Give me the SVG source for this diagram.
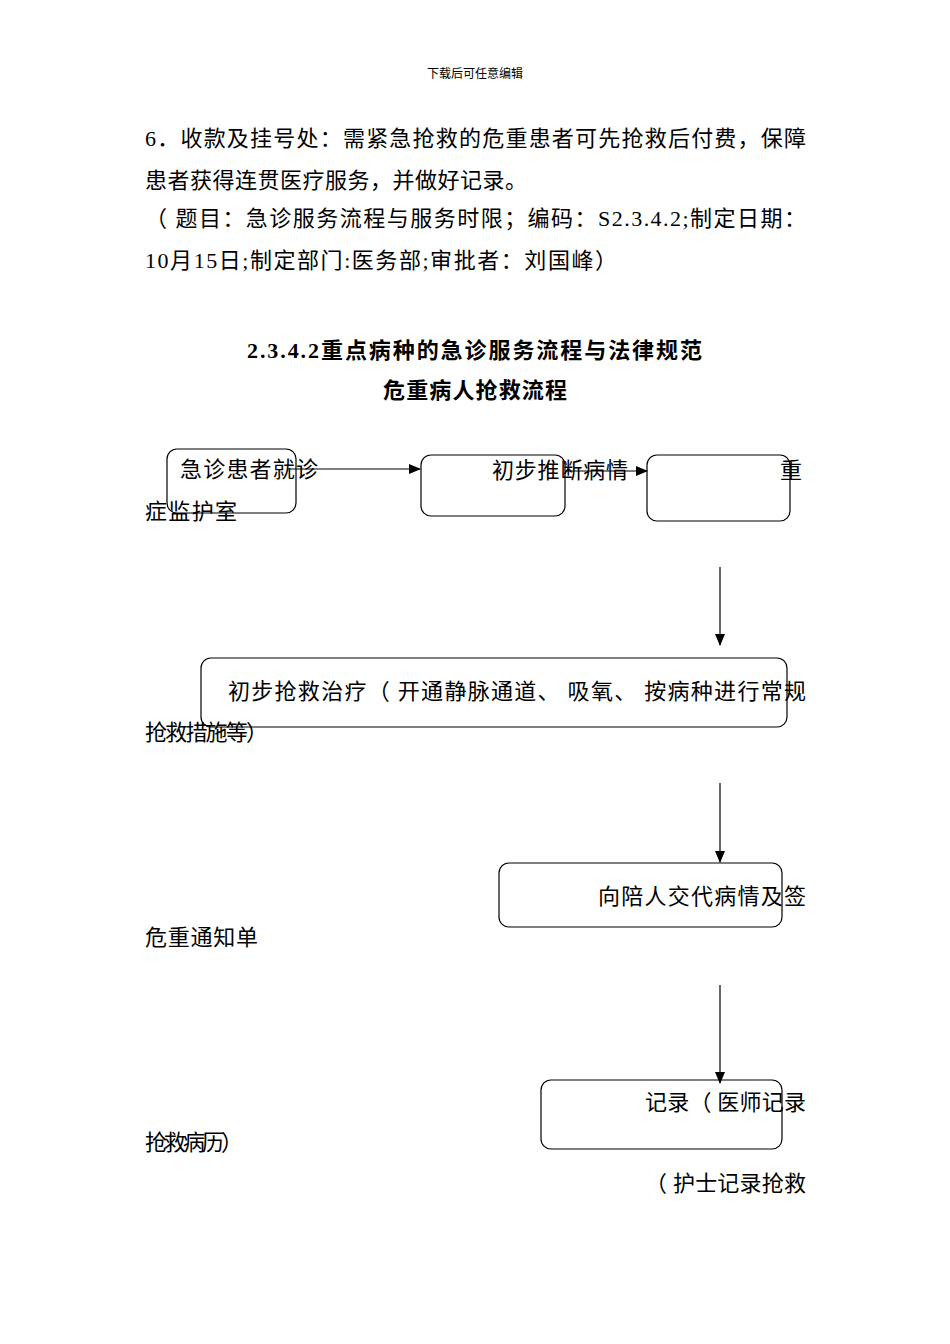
<svg xmlns="http://www.w3.org/2000/svg" width="950" height="1344" viewBox="0 0 950 1344">
<style>
.t{font-family:"Liberation Serif","Noto Sans CJK SC",serif;font-size:22px;fill:#000}
.b{font-weight:bold}
.box{fill:none;stroke:#000;stroke-width:1.2}
.ln{stroke:#000;stroke-width:1.2;fill:none}
</style>
<defs>
<marker id="ah" markerWidth="12" markerHeight="10" refX="11" refY="5" orient="auto" markerUnits="userSpaceOnUse">
<path d="M0,0 L12,5 L0,10 Z" fill="#000"/>
</marker>
</defs>
<rect width="950" height="1344" fill="#fff"/>
<text x="475" y="78" text-anchor="middle" font-family="Noto Sans CJK SC, sans-serif" font-size="12" fill="#000">下载后可任意编辑</text>
<text class="t" x="145" y="146" textLength="661" lengthAdjust="spacing">6．收款及挂号处：需紧急抢救的危重患者可先抢救后付费，保障</text>
<text class="t" x="145" y="188" textLength="382" lengthAdjust="spacing">患者获得连贯医疗服务，并做好记录。</text>
<text class="t" x="145" y="226" textLength="661" lengthAdjust="spacing">（ 题目：急诊服务流程与服务时限；编码：S2.3.4.2;制定日期：</text>
<text class="t" x="145" y="268" textLength="472" lengthAdjust="spacing">10月15日;制定部门:医务部;审批者：刘国峰）</text>
<text class="t b" x="247" y="358" textLength="455" lengthAdjust="spacing">2.3.4.2重点病种的急诊服务流程与法律规范</text>
<text class="t b" x="383" y="398" textLength="184" lengthAdjust="spacing">危重病人抢救流程</text>
<g id="connectors">
<line class="ln" x1="290" y1="469" x2="420" y2="469" marker-end="url(#ah)"/>
<line class="ln" x1="565" y1="471" x2="647" y2="471" marker-end="url(#ah)"/>
<line class="ln" x1="720" y1="567" x2="720" y2="645" marker-end="url(#ah)"/>
<line class="ln" x1="720" y1="783" x2="720" y2="862" marker-end="url(#ah)"/>
<line class="ln" x1="720" y1="985" x2="720" y2="1083" marker-end="url(#ah)"/>
</g>
<g id="n1">
<rect class="box" x="167" y="449" width="129" height="64" rx="10"/>
<text class="t" x="180" y="477" textLength="138" lengthAdjust="spacing">急诊患者就诊</text>
</g>
<g id="n2">
<rect class="box" x="421" y="455" width="144" height="61" rx="10"/>
<text class="t" x="492" y="478" textLength="136" lengthAdjust="spacing">初步推断病情</text>
</g>
<g id="n3">
<rect class="box" x="647" y="455" width="143" height="66" rx="10"/>
<text class="t" x="780" y="478">重</text>
</g>
<text class="t" x="145" y="519" textLength="92" lengthAdjust="spacing">症监护室</text>
<g id="n4">
<rect class="box" x="201" y="658" width="586" height="69" rx="10"/>
<text class="t" x="228" y="699" textLength="578" lengthAdjust="spacing">初步抢救治疗（ 开通静脉通道、 吸氧、 按病种进行常规</text>
</g>
<text class="t" x="145" y="740" textLength="123" lengthAdjust="spacing">抢救措施等）</text>
<g id="n5">
<rect class="box" x="499" y="863" width="283" height="64" rx="10"/>
<text class="t" x="598" y="904" textLength="208" lengthAdjust="spacing">向陪人交代病情及签</text>
</g>
<text class="t" x="145" y="945" textLength="113" lengthAdjust="spacing">危重通知单</text>
<g id="n6">
<rect class="box" x="541" y="1080" width="241" height="69" rx="10"/>
<text class="t" x="645" y="1110" textLength="161" lengthAdjust="spacing">记录（ 医师记录</text>
</g>
<text class="t" x="145" y="1150" textLength="98" lengthAdjust="spacing">抢救病历）</text>
<text class="t" x="645" y="1191" textLength="161" lengthAdjust="spacing">（ 护士记录抢救</text>
</svg>
